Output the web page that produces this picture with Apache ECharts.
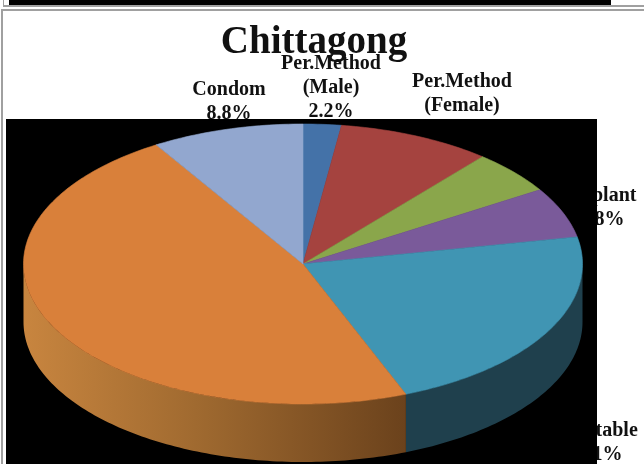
<!DOCTYPE html>
<html><head><meta charset="utf-8">
<style>html,body{margin:0;padding:0;background:#fff}#c{width:644px;height:464px}</style>
<script src="https://cdn.jsdelivr.net/npm/echarts@6/dist/echarts.min.js"></script>
</head><body><div id="c"></div>
<script>
const categories=["Per.Method (Male)","Per.Method (Female)","Pill","Implant","Injectable","Traditional","Condom"];
const shares=[2.2,8.9,5.0,5.8,22.1,47.2,8.8];
const topColors=["#4472a8","#a5433f","#8aa64b","#7a5a9a","#4095b3","#d9803a","#92a7cf"];
const sideStops=[null,null,null,null,[["#1f404d",0],["#1f404d",1]],[["#c8853f",0],["#a06a30",0.45],["#6b421c",1]],null];
const labelLines=[
 {t:"Per.Method\n(Male)\n2.2%",x:326,y:47},
 {t:"Per.Method\n(Female)",x:457,y:65},
 {t:"Implant\n5.8%",x:597,y:179},
 {t:"Injectable\n22.1%",x:590,y:414},
 {t:"Condom\n8.8%",x:224,y:73}
];
const cx=303,cy=264,rx=279.5,ry=140,depth=58;
const total=shares.reduce((a,b)=>a+b,0);
function pt(deg,dy){const r=deg*Math.PI/180;return [cx+rx*Math.sin(r),cy-ry*Math.cos(r)+(dy||0)];}
function arc(a,b,dy){const n=Math.max(2,Math.ceil(Math.abs(b-a)));const o=[];for(let i=0;i<=n;i++)o.push(pt(a+(b-a)*i/n,dy));return o;}
function renderSlice(params,api){
  const i=params.dataIndex;
  let start=0;for(let k=0;k<i;k++)start+=shares[k];
  const a=start/total*360,b=(start+api.value(1))/total*360;
  const children=[];
  const sa=Math.max(a,90),sb=Math.min(b,270);
  if(sb>sa&&sideStops[i]){
    const top=arc(sa,sb,0),bot=arc(sb,sa,depth);
    children.push({type:'polygon',shape:{points:top.concat(bot)},style:{fill:new echarts.graphic.LinearGradient(0,0,1,0,sideStops[i].map(s=>({color:s[0],offset:s[1]})))}});
  }
  children.push({type:'polygon',shape:{points:[[cx,cy]].concat(arc(a,b,0))},style:{fill:topColors[i],stroke:topColors[i],lineWidth:0.6}});
  return {type:'group',children};
}
const labelTitles=labelLines.map(l=>({text:l.t,left:l.x,top:l.y,textAlign:'center',z:1,
  textStyle:{fontFamily:'"Liberation Serif"',fontWeight:'bold',fontSize:20,lineHeight:24,color:'#111'}}));
const chart=echarts.init(document.getElementById('c'),null,{renderer:'canvas'});
chart.setOption({
  backgroundColor:'#fff',animation:false,
  title:[{text:"Chittagong",left:309,top:18,textAlign:'center',z:0,
    textStyle:{fontFamily:'"Liberation Serif"',fontWeight:'bold',fontSize:39,color:'#111'}}].concat(labelTitles),
  xAxis:{show:false,min:0,max:1},yAxis:{show:false,min:0,max:1},
  grid:{left:0,right:0,top:0,bottom:0},
  graphic:[
    {type:'rect',z:2,shape:{x:6,y:119,width:591,height:345},style:{fill:'#000'}},
    {type:'rect',z:2,shape:{x:9,y:0,width:602,height:5},style:{fill:'#000'}},
    {type:'rect',z:2,shape:{x:3,y:0,width:1,height:7},style:{fill:'#a0a0a0'}},
    {type:'rect',z:2,shape:{x:3,y:5,width:641,height:2},style:{fill:'#a0a0a0'}},
    {type:'rect',z:2,shape:{x:1,y:9,width:643,height:2},style:{fill:'#a0a0a0'}},
    {type:'rect',z:2,shape:{x:1,y:9,width:2,height:455},style:{fill:'#a0a0a0'}}
  ],
  series:[{type:'custom',z:3,coordinateSystem:'none',renderItem:renderSlice,
    data:categories.map((c,i)=>({name:c,value:[i,shares[i]]})),clip:false,silent:true}]
});
</script></body></html>
